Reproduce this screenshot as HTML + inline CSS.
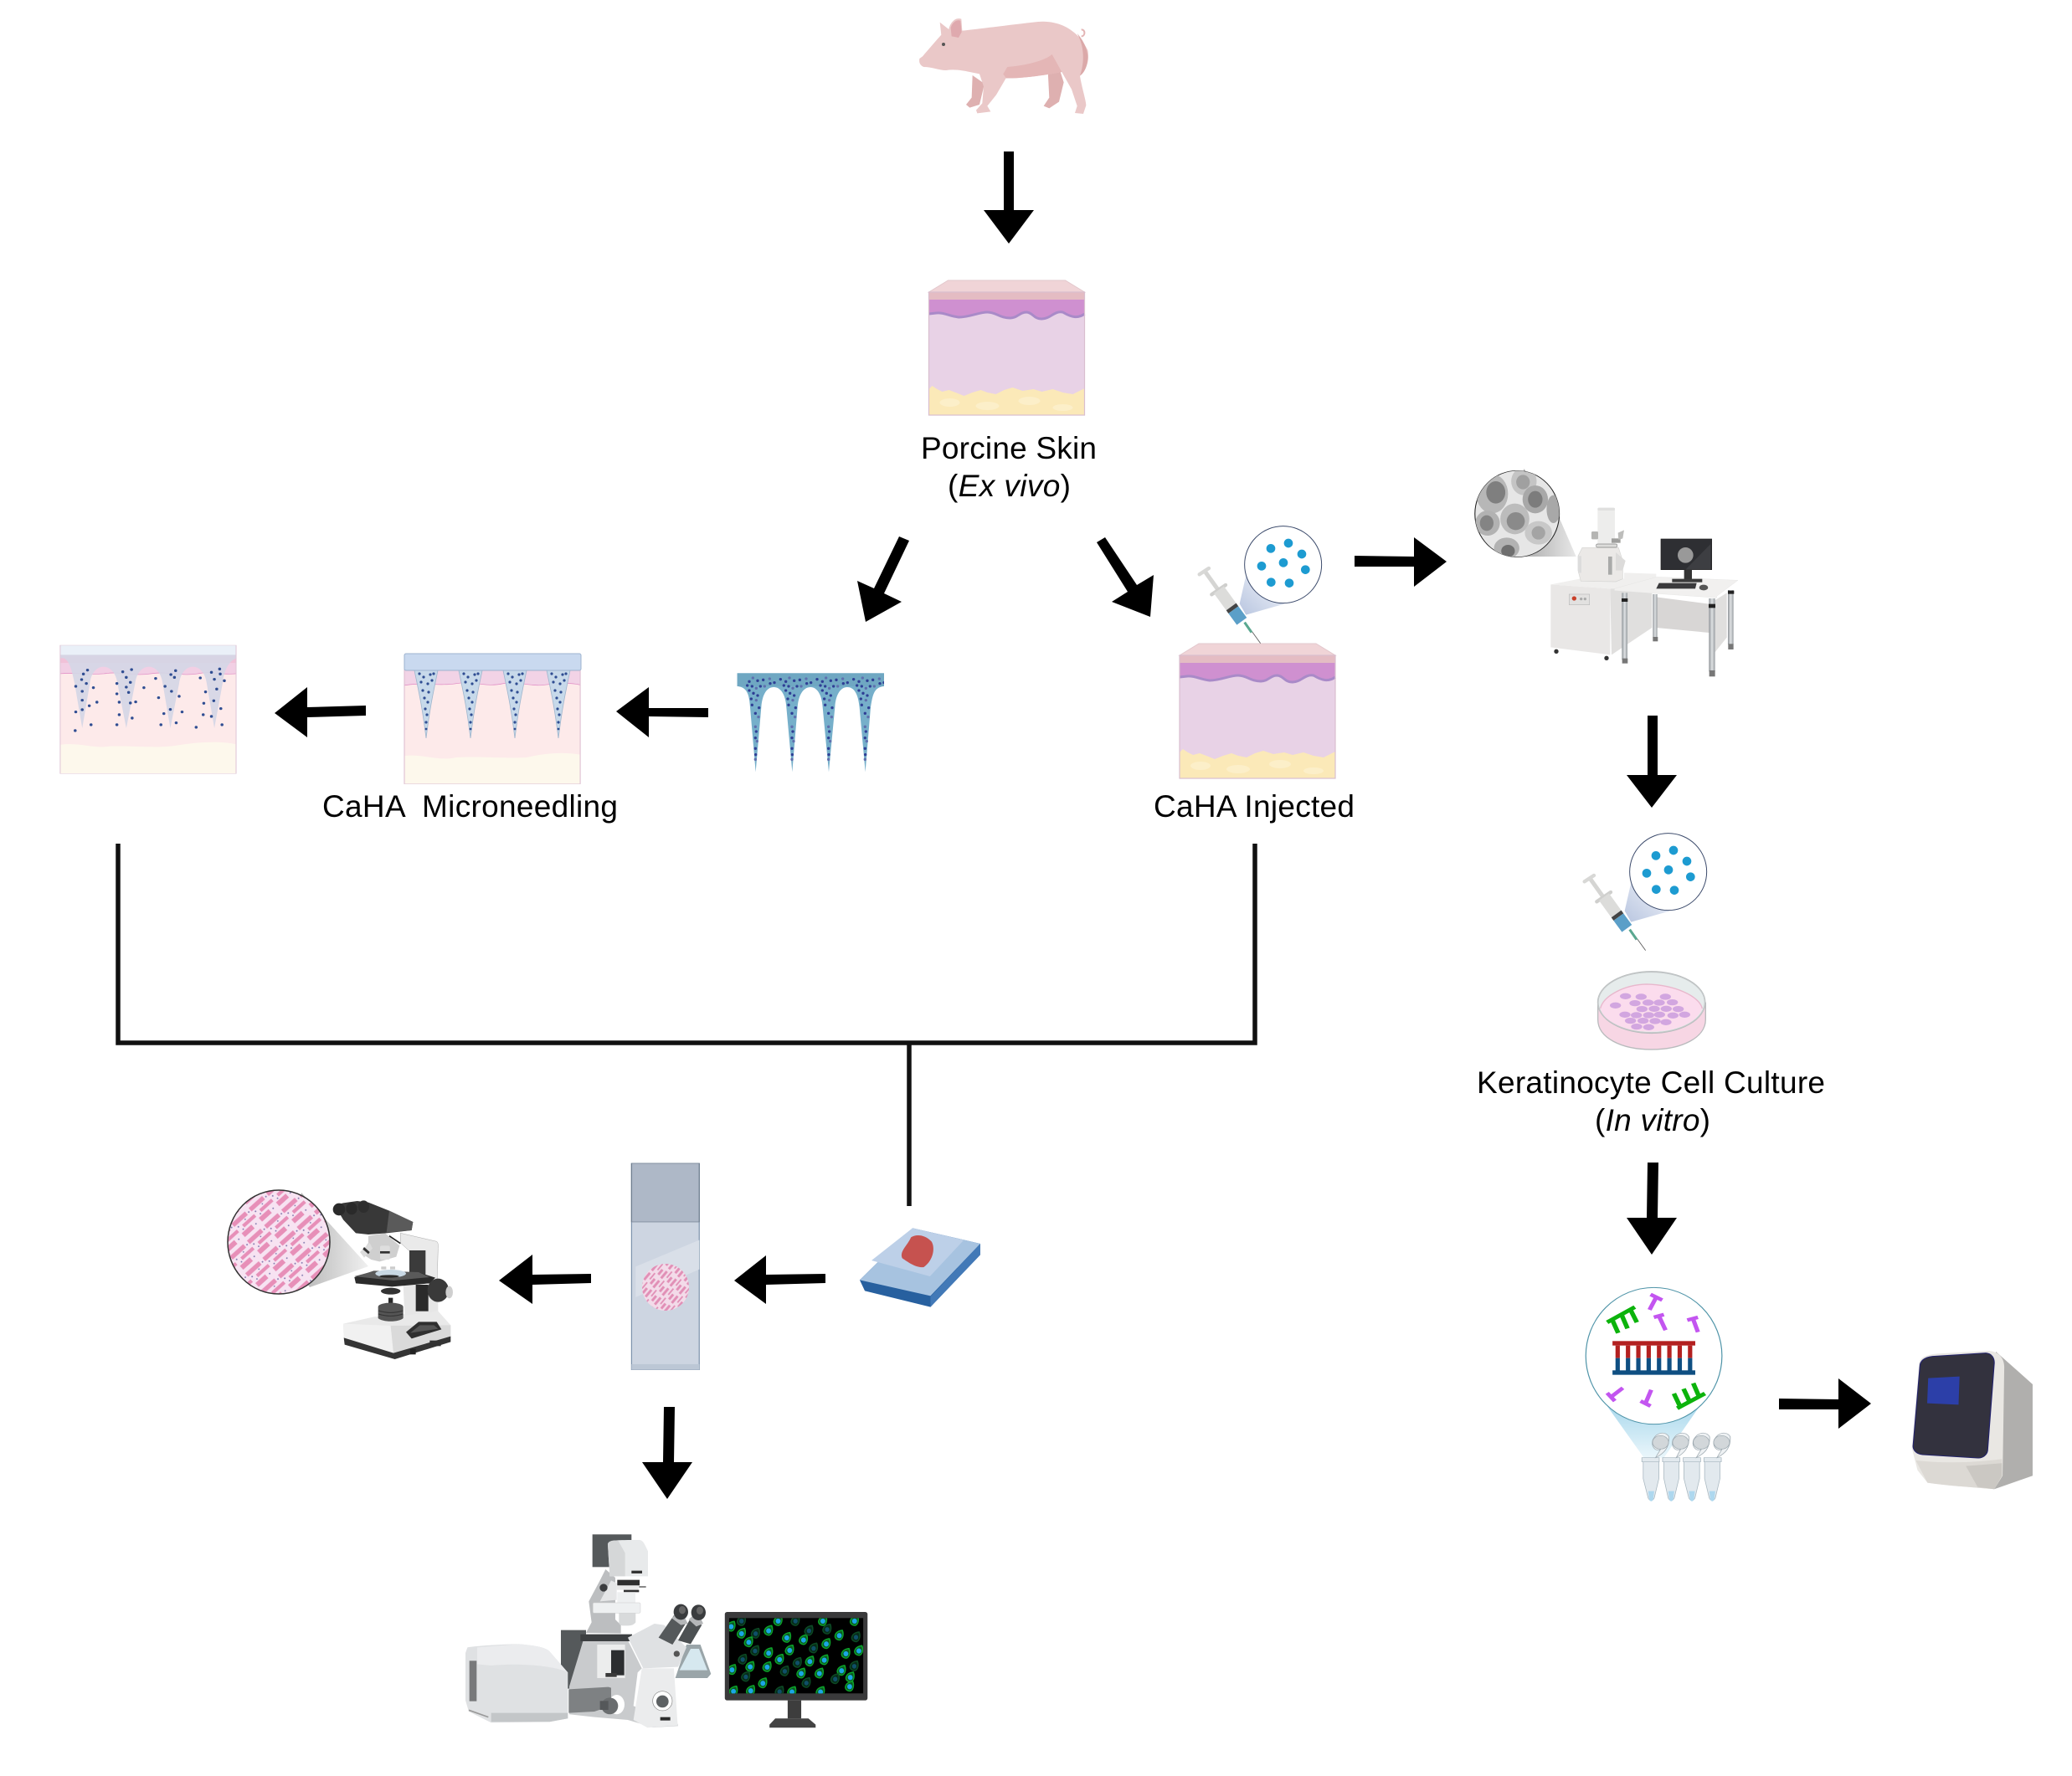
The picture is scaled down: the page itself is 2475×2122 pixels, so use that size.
<!DOCTYPE html>
<html><head><meta charset="utf-8"><style>
html,body{margin:0;padding:0;background:#fff}
svg{display:block}
text{font-family:"Liberation Sans",sans-serif;font-size:37px;fill:#000}
</style></head><body>
<svg xmlns="http://www.w3.org/2000/svg" width="2475" height="2122" viewBox="0 0 2475 2122">
<defs>
<linearGradient id="coneB" x1="0" y1="1" x2="1" y2="0"><stop offset="0" stop-color="#b9c6e0"/><stop offset="1" stop-color="#f4f6fb"/></linearGradient>
<linearGradient id="coneG" x1="1" y1="0.5" x2="0" y2="0.5"><stop offset="0" stop-color="#e8e8e8"/><stop offset="1" stop-color="#a5a5a5"/></linearGradient>
<linearGradient id="coneG2" x1="0" y1="0" x2="1" y2="0"><stop offset="0" stop-color="#a9a9a9"/><stop offset="1" stop-color="#f0f0f0"/></linearGradient>
<linearGradient id="coneC" x1="0" y1="0" x2="0" y2="1"><stop offset="0" stop-color="#a9d8ec"/><stop offset="1" stop-color="#eaf6fb"/></linearGradient>
<linearGradient id="leg" x1="0" y1="0" x2="1" y2="0"><stop offset="0" stop-color="#8f9498"/><stop offset=".5" stop-color="#dfe2e4"/><stop offset="1" stop-color="#989da1"/></linearGradient>
<pattern id="histo" width="46" height="46" patternUnits="userSpaceOnUse" patternTransform="rotate(-42) scale(.6)"><rect width="46" height="46" fill="#f7e3f2"/><g fill="#e78fb8"><rect x="0" y="3" width="36" height="9"/><rect x="14" y="19" width="32" height="7"/><rect x="2" y="31" width="26" height="10"/></g><g fill="#8077ad"><circle cx="41" cy="9" r="1.6"/><circle cx="6" cy="17" r="1.6"/><circle cx="36" cy="36" r="1.6"/><circle cx="10" cy="27" r="1.6"/><circle cx="26" cy="15" r="1.4"/></g></pattern>
<pattern id="histo2" width="24" height="24" patternUnits="userSpaceOnUse" patternTransform="rotate(-50) scale(.6)"><rect width="24" height="24" fill="#f3dbe9"/><g fill="#e18fb6"><rect x="0" y="2" width="18" height="5"/><rect x="8" y="11" width="16" height="3"/><rect x="2" y="17" width="13" height="5"/></g></pattern>

<g id="skin">
<path d="M0,14 L23,0 H163 L186,14Z" fill="#f0d4d7" stroke="#e2c7cc" stroke-width="1"/>
<rect y="14" width="186" height="10" fill="#e4bcc3"/>
<rect y="23" width="186" height="115" fill="#e8d2e6"/>
<path d="M0,23 H186 V40 C178,46 170,44 160,38 C150,36 145,46 135,46 C125,46 125,39 117,38 C108,38 106,45 97,45 C85,45 80,38 70,38 C60,38 48,44 36,44 C25,43 18,38 9,39 L0,40Z" fill="#cf90d0"/>
<path d="M0,40 L9,39 C18,38 25,43 36,44 C48,44 60,38 70,38 C80,38 85,45 97,45 C106,45 108,38 117,38 C125,39 125,46 135,46 C145,46 150,36 160,38 C170,44 178,46 186,40" fill="none" stroke="#a98ac8" stroke-width="3"/>
<path d="M0,161 V130 L4,126 L10,130 L16,133 L24,131 L32,134 L42,138 L52,134 L62,131 L70,134 L80,136 L90,131 L100,128 L112,132 L125,130 L135,133 L148,130 L160,134 L172,136 L186,129 V161Z" fill="#fbe9b8"/>
<g fill="#fcefc9"><ellipse cx="25" cy="146" rx="12" ry="5"/><ellipse cx="70" cy="150" rx="14" ry="5"/><ellipse cx="120" cy="144" rx="13" ry="5"/><ellipse cx="160" cy="152" rx="12" ry="4"/></g>
<rect y="14" width="186" height="147" fill="none" stroke="#d9bfcf" stroke-width="1.2"/>
</g>

<g id="syr">
<path d="M422,385 L447,275 C470,340 520,375 585,385 L445,425Z" fill="url(#coneB)"/>
<circle cx="578" cy="245" r="138" fill="#fff" stroke="#3b4a6b" stroke-width="3"/>
<g fill="#1d9bd1"><circle cx="534" cy="187" r="16"/><circle cx="597" cy="168" r="16"/><circle cx="645" cy="207" r="16"/><circle cx="501" cy="250" r="16"/><circle cx="579" cy="238" r="16"/><circle cx="658" cy="263" r="16"/><circle cx="535" cy="308" r="16"/><circle cx="600" cy="311" r="16"/></g>
<line x1="445" y1="455" x2="497" y2="527" stroke="#555" stroke-width="2.5"/>
<line x1="440" y1="452" x2="465" y2="488" stroke="#5aa890" stroke-width="9"/>
<line x1="300" y1="272" x2="345" y2="335" stroke="#d5d5d3" stroke-width="15"/>
<line x1="278" y1="280" x2="312" y2="258" stroke="#d8d8d6" stroke-width="13" stroke-linecap="round"/>
<line x1="322" y1="352" x2="372" y2="318" stroke="#cfcfcd" stroke-width="13" stroke-linecap="round"/>
<line x1="348" y1="335" x2="392" y2="396" stroke="#dcdcda" stroke-width="44"/>
<line x1="392" y1="396" x2="400" y2="407" stroke="#444" stroke-width="44"/>
<line x1="400" y1="407" x2="430" y2="448" stroke="#5b9fc8" stroke-width="44"/>
</g>

<g id="mnd">
<g fill="#2f3f95"><circle cx="75" cy="58" r="5"/><circle cx="105" cy="55" r="5"/><circle cx="125" cy="52" r="5"/><circle cx="68" cy="72" r="5"/><circle cx="85" cy="75" r="5"/><circle cx="115" cy="75" r="5"/><circle cx="75" cy="90" r="5"/><circle cx="90" cy="100" r="5"/><circle cx="105" cy="108" r="5"/><circle cx="82" cy="120" r="5"/><circle cx="110" cy="152" r="5"/><circle cx="85" cy="142" r="5"/><circle cx="97" cy="172" r="5"/><circle cx="100" cy="237" r="5"/><circle cx="97" cy="260" r="5"/><circle cx="97" cy="298" r="5"/><circle cx="98" cy="320" r="5"/><circle cx="150" cy="65" r="5"/><circle cx="165" cy="62" r="5"/><circle cx="187" cy="50" r="5"/></g>
<g fill="#5f6fae"><circle cx="88" cy="45" r="5"/><circle cx="100" cy="82" r="5"/><circle cx="100" cy="125" r="5"/><circle cx="108" cy="185" r="5"/><circle cx="97" cy="220" r="5"/><circle cx="103" cy="272" r="5"/><circle cx="97" cy="337" r="5"/><circle cx="148" cy="48" r="5"/><circle cx="130" cy="75" r="5"/></g>
</g>
<g id="ndl">
<path d="M-14,0 H14 C10,20 5,40 0,81 C-5,40 -10,20 -14,0Z" fill="#c7d9ea" stroke="#9fb6cd" stroke-width=".8"/>
<g fill="#2f4d92"><circle cx="-8" cy="4" r="1.6"/><circle cx="-3" cy="8" r="1.6"/><circle cx="5" cy="5" r="1.6"/><circle cx="9" cy="4" r="1.6"/><circle cx="-6" cy="14" r="1.6"/><circle cx="2" cy="16" r="1.6"/><circle cx="7" cy="12" r="1.6"/><circle cx="-4" cy="24" r="1.6"/><circle cx="3" cy="26" r="1.6"/><circle cx="-2" cy="33" r="1.6"/><circle cx="2" cy="38" r="1.6"/><circle cx="-1" cy="46" r="1.6"/><circle cx="1" cy="53" r="1.6"/><circle cx="0" cy="62" r="1.6"/><circle cx="0" cy="70" r="1.4"/></g>
</g>

<g id="c" transform="scale(.85)"><path d="M-20,3 C-18,-14 -4,-22 14,-24 C22,-8 18,18 2,22 C-10,22 -20,14 -20,3Z" fill="#0ca32a"/><path d="M-15,3 C-13,-10 -2,-16 10,-18 C16,-6 13,14 2,17 C-7,17 -15,11 -15,3Z" fill="#0a5a20"/><ellipse cx="0" cy="1" rx="10" ry="11" fill="#1aa6e6"/></g>
<g id="d" transform="scale(.85)"><path d="M-20,3 C-18,-14 -4,-22 14,-24 C22,-8 18,18 2,22 C-10,22 -20,14 -20,3Z" fill="#0c4a24"/><path d="M-15,3 C-13,-10 -2,-16 10,-18 C16,-6 13,14 2,17 C-7,17 -15,11 -15,3Z" fill="#062a18"/><ellipse cx="0" cy="1" rx="9" ry="10" fill="#0f4f68"/></g>
<clipPath id="scr"><rect x="990" y="340" width="465" height="270"/></clipPath>
<clipPath id="semC"><ellipse cx="945" cy="222" rx="93" ry="155"/></clipPath>
<clipPath id="pn1"><rect x="45" y="453" width="300" height="460"/></clipPath>
<clipPath id="mnC"><rect x="32" y="28" width="526" height="360"/></clipPath>
</defs>

<!-- PIG -->
<g transform="translate(1090,10) scale(.3333)">
<path d="M215,240 L212,320 L192,345 L205,356 L240,345 L258,270Z" fill="#deb0b0"/>
<path d="M485,222 L490,320 L470,350 L490,358 L525,335 L542,265 L525,212Z" fill="#deb0b0"/>
<path d="M25,180 L36,172 C55,150 85,115 103,95 L98,50 L130,75 C135,50 155,30 175,38 L178,80 C230,75 340,60 450,48 C520,42 590,72 628,150 C636,190 620,225 600,242 C608,290 622,330 622,348 L612,378 L582,375 L590,350 L570,290 L535,228 C480,238 400,252 335,250 L300,310 L268,350 L280,370 L232,376 L228,365 L250,340 L255,280 L240,235 C200,228 160,215 120,222 C95,222 70,210 40,210 C28,205 22,195 25,180Z" fill="#eac8c8"/>
<path d="M340,210 C400,205 470,190 500,165 L535,228 C480,238 400,252 335,250 L325,235Z" fill="#e4b6b6"/>
<path d="M590,90 C618,120 636,165 625,200 C620,222 610,235 600,242 C618,190 615,135 590,90Z" fill="#dba9a9"/>
<path d="M140,100 L137,70 C142,48 162,38 172,45 L176,85 L165,105Z" fill="#dfa9ae"/>
<circle cx="111" cy="129" r="6" fill="#555"/>
<path d="M605,100 C620,100 620,75 605,76" fill="none" stroke="#e3b5b5" stroke-width="6"/>
</g>
<use href="#skin" x="1109.5" y="335"/>
<use href="#skin" x="1409" y="769"/>

<!-- ARROWS -->
<g fill="#000">
<polygon points="1199,181 1211,181 1211,251 1235,251 1205,291 1175,251 1199,251"/>
<polygon points="1074,641 1044,703 1024,694 1034,743 1077,719 1056,709 1086,646"/>
<polygon points="1310,648 1347,707 1328,719 1374,737 1378,687 1358,699 1320,642"/>
<polygon points="1618,664 1689,665 1689,642 1728,671 1689,701 1689,677 1618,677"/>
<polygon points="1968,855 1980,855 1980,926 2003,926 1973,965 1943,926 1968,926"/>
<polygon points="846,846 846,857 775,856 775,881 736,850 775,821 775,846"/>
<polygon points="437,843 437,855 367,857 367,881 328,852 367,821 367,845"/>
<polygon points="1968,1389 1981,1389 1980,1455 2003,1455 1973,1499 1943,1455 1967,1455"/>
<polygon points="986,1522 986,1533 915,1535 915,1558 877,1530 915,1500 915,1523"/>
<polygon points="706,1522 706,1533 636,1535 636,1558 596,1530 636,1499 636,1523"/>
<polygon points="793,1681 806,1681 805,1747 827,1747 797,1791 767,1747 792,1747"/>
<polygon points="2125,1671 2196,1672 2196,1647 2235,1677 2196,1707 2196,1684 2125,1684"/>
</g>

<!-- BRACKET -->
<path d="M141,1008 V1246 H1499 V1008 M1086,1246 V1441" fill="none" stroke="#111" stroke-width="5.5"/>

<!-- MICRONEEDLE PATCH -->
<g transform="translate(870,795) scale(.3333)">
<path d="M32,28 H558 V75 C520,78 517,110 510,150 L491,382 L470,150 C465,100 450,78 426,78 C405,78 385,100 382,150 L360,382 L338,150 C335,100 315,78 295,78 C272,78 252,100 248,150 L229,382 L208,150 C205,100 185,78 163,78 C140,78 122,100 118,150 L98,382 L78,150 C75,110 70,78 32,75Z" fill="#76afca"/>
<rect x="32" y="28" width="526" height="47" fill="#6fa7c2"/>
<g clip-path="url(#mnC)"><use href="#mnd"/><use href="#mnd" x="131"/><use href="#mnd" x="262"/><use href="#mnd" x="393"/></g>
</g>

<!-- PANELS -->
<g transform="translate(40,620) scale(.7015,.3333)">
<rect x="631" y="540" width="300" height="410" fill="#fdeaea"/>
<path d="M631,850 C660,840 690,870 720,855 C760,850 800,860 840,855 C870,840 900,835 931,845 V950 H631Z" fill="#fdf8ec"/>
<path d="M631,540 H931 V595 C910,585 890,590 870,595 C850,602 820,580 800,590 C770,605 750,580 720,590 C690,600 660,585 631,597Z" fill="#f2d3e6"/>
<path d="M631,597 C660,585 690,600 720,590 C750,580 770,605 800,590 C820,580 850,602 870,595 C890,590 910,585 931,595" fill="none" stroke="#e08ac4" stroke-width="2"/>
<rect x="631.5" y="540" width="299.5" height="410" fill="none" stroke="#ddbcd0" stroke-width="1.5"/>

<rect x="45" y="453" width="300" height="460" fill="#fdeaea"/>
<rect x="45" y="453" width="300" height="35" fill="#eaf0f8"/>
<path d="M45,810 C80,800 100,825 130,815 C170,812 210,825 250,810 C280,800 320,795 345,808 V913 H45Z" fill="#fdf8ec"/>
<path d="M45,488 H345 V555 C320,560 300,545 280,555 C250,565 230,545 200,555 C170,565 150,545 120,555 C90,560 70,550 45,555Z" fill="#f2cfe4"/>
<rect x="45" y="488" width="300" height="28" fill="#f0bcd4" opacity=".75"/>
<path d="M45,555 C70,550 90,560 120,555 C150,545 170,565 200,555 C230,545 250,565 280,555 C300,545 320,560 345,555" fill="none" stroke="#e08ac4" stroke-width="2"/>
<g clip-path="url(#pn1)" fill="#d4d6e6" fill-opacity=".9">
<path d="M45,500 C60,490 65,540 70,590 L83,750 L96,590 C100,510 138,510 143,590 L158,750 L173,590 C178,510 215,510 220,590 L233,750 L248,590 C253,510 290,510 295,590 L308,750 L322,590 C326,510 345,500 345,500 V487 H45Z"/>
</g>
<rect x="45.5" y="453" width="299.5" height="460" fill="none" stroke="#dfc6d6" stroke-width="1.5"/>
<g fill="#2f4d92">
<ellipse cx="92" cy="542" rx="2.5" ry="5"/><ellipse cx="85" cy="556" rx="2.5" ry="5"/><ellipse cx="152" cy="548" rx="2.5" ry="5"/><ellipse cx="167" cy="540" rx="2.5" ry="5"/><ellipse cx="242" cy="544" rx="2.5" ry="5"/><ellipse cx="234" cy="558" rx="2.5" ry="5"/><ellipse cx="303" cy="550" rx="2.5" ry="5"/><ellipse cx="317" cy="538" rx="2.5" ry="5"/><ellipse cx="318" cy="556" rx="2.5" ry="5"/>
<ellipse cx="82" cy="576" rx="2.5" ry="5"/><ellipse cx="90" cy="590" rx="2.5" ry="5"/><ellipse cx="72" cy="600" rx="2.5" ry="5"/><ellipse cx="102" cy="605" rx="2.5" ry="5"/><ellipse cx="83" cy="618" rx="2.5" ry="5"/><ellipse cx="83" cy="650" rx="2.5" ry="5"/><ellipse cx="108" cy="657" rx="2.5" ry="5"/><ellipse cx="95" cy="670" rx="2.5" ry="5"/><ellipse cx="83" cy="684" rx="2.5" ry="5"/><ellipse cx="72" cy="692" rx="2.5" ry="5"/><ellipse cx="98" cy="738" rx="2.5" ry="5"/><ellipse cx="71" cy="759" rx="2.5" ry="5"/>
<ellipse cx="158" cy="568" rx="2.5" ry="5"/><ellipse cx="142" cy="590" rx="2.5" ry="5"/><ellipse cx="165" cy="586" rx="2.5" ry="5"/><ellipse cx="158" cy="603" rx="2.5" ry="5"/><ellipse cx="188" cy="605" rx="2.5" ry="5"/><ellipse cx="142" cy="627" rx="2.5" ry="5"/><ellipse cx="162" cy="622" rx="2.5" ry="5"/><ellipse cx="146" cy="657" rx="2.5" ry="5"/><ellipse cx="165" cy="660" rx="2.5" ry="5"/><ellipse cx="174" cy="656" rx="2.5" ry="5"/><ellipse cx="146" cy="702" rx="2.5" ry="5"/><ellipse cx="168" cy="714" rx="2.5" ry="5"/><ellipse cx="142" cy="738" rx="2.5" ry="5"/>
<ellipse cx="208" cy="572" rx="2.5" ry="5"/><ellipse cx="240" cy="568" rx="2.5" ry="5"/><ellipse cx="224" cy="600" rx="2.5" ry="5"/><ellipse cx="235" cy="618" rx="2.5" ry="5"/><ellipse cx="213" cy="641" rx="2.5" ry="5"/><ellipse cx="248" cy="636" rx="2.5" ry="5"/><ellipse cx="233" cy="683" rx="2.5" ry="5"/><ellipse cx="253" cy="692" rx="2.5" ry="5"/><ellipse cx="222" cy="698" rx="2.5" ry="5"/><ellipse cx="217" cy="738" rx="2.5" ry="5"/><ellipse cx="243" cy="731" rx="2.5" ry="5"/>
<ellipse cx="284" cy="570" rx="2.5" ry="5"/><ellipse cx="308" cy="575" rx="2.5" ry="5"/><ellipse cx="325" cy="580" rx="2.5" ry="5"/><ellipse cx="312" cy="610" rx="2.5" ry="5"/><ellipse cx="293" cy="620" rx="2.5" ry="5"/><ellipse cx="307" cy="652" rx="2.5" ry="5"/><ellipse cx="290" cy="661" rx="2.5" ry="5"/><ellipse cx="319" cy="680" rx="2.5" ry="5"/><ellipse cx="289" cy="702" rx="2.5" ry="5"/><ellipse cx="303" cy="708" rx="2.5" ry="5"/><ellipse cx="277" cy="747" rx="2.5" ry="5"/><ellipse cx="321" cy="738" rx="2.5" ry="5"/>
</g>
</g>
<use href="#ndl" x="509" y="801"/><use href="#ndl" x="562" y="801"/><use href="#ndl" x="615" y="801"/><use href="#ndl" x="667" y="801"/>
<rect x="483" y="781" width="211" height="20" rx="2" fill="#c9d9ef" stroke="#9db3cf" stroke-width="1"/>

<!-- SYRINGES -->
<use href="#syr" transform="translate(1340,593) scale(.3333)"/>
<use href="#syr" transform="translate(1800,960) scale(.3333)"/>

<!-- SEM bubble -->
<g transform="translate(1300,540) scale(.542,.3333)">
<path d="M960,60 L1035,225 L1075,375 L945,375Z" fill="url(#coneG)"/>
<ellipse cx="945" cy="222" rx="93" ry="155" fill="#e6e6e6" stroke="#222" stroke-width="2"/>
<g clip-path="url(#semC)">
<ellipse cx="890" cy="150" rx="35" ry="70" fill="#b7b7b7"/><ellipse cx="898" cy="145" rx="21" ry="40" fill="#7f7f7f"/>
<ellipse cx="960" cy="105" rx="28" ry="50" fill="#c4c4c4"/><ellipse cx="958" cy="108" rx="15" ry="26" fill="#a0a0a0"/>
<ellipse cx="985" cy="170" rx="28" ry="50" fill="#a8a8a8"/><ellipse cx="985" cy="170" rx="16" ry="30" fill="#7c7c7c"/>
<ellipse cx="940" cy="240" rx="32" ry="55" fill="#bcbcbc"/><ellipse cx="942" cy="248" rx="20" ry="32" fill="#8a8a8a"/>
<ellipse cx="880" cy="255" rx="27" ry="45" fill="#b2b2b2"/><ellipse cx="878" cy="255" rx="15" ry="28" fill="#848484"/>
<ellipse cx="992" cy="290" rx="30" ry="42" fill="#c8c8c8"/><ellipse cx="992" cy="290" rx="15" ry="24" fill="#a4a4a4"/>
<ellipse cx="922" cy="345" rx="28" ry="38" fill="#b2b2b2"/><ellipse cx="925" cy="355" rx="15" ry="22" fill="#6f6f6f"/>
<ellipse cx="1025" cy="205" rx="15" ry="50" fill="#a8a8a8"/>
</g>
</g>
<!-- SEM instrument -->
<g transform="translate(1840,595) scale(.3333)">
<path d="M415,355 L605,380 V483 L415,465Z" fill="#d8d6d5"/>
<path d="M620,370 L668,340 V500 L620,560Z" fill="#e0dfde"/>
<path d="M250,325 L400,285 V465 L255,562Z" fill="#e0dfde"/>
<path d="M37,310 L250,325 V562 L37,535Z" fill="#e9e7e6"/>
<path d="M37,310 L140,290 L300,290 L300,268 L415,272 V285 L265,325 H250Z" fill="#f0efee"/>
<path d="M135,208 L150,178 H280 L295,225 V290 L270,300 L145,298 L135,260Z" fill="#ebe9e7" stroke="#d5d5d3" stroke-width="2"/>
<rect x="243" y="210" width="14" height="65" fill="#a9aaa9"/><rect x="135" y="208" width="12" height="60" fill="#dcdcdc"/>
<path d="M270,195 L305,225 L295,260 L270,260Z" fill="#dcdbda"/>
<rect x="205" y="35" width="62" height="135" rx="8" fill="#ededec"/><rect x="205" y="35" width="62" height="10" rx="4" fill="#e0e0df"/>
<rect x="183" y="120" width="24" height="28" rx="4" fill="#b5b5b3"/><rect x="255" y="145" width="32" height="16" fill="#9f9f9d"/><path d="M278,125 L300,115 L295,145 L280,150Z" fill="#bdbdbb"/>
<rect x="200" y="165" width="75" height="12" rx="5" fill="#dcdcda" stroke="#888" stroke-width="2"/>
<rect x="103" y="345" width="73" height="38" fill="#e2e1e0" stroke="#bbb" stroke-width="2"/><circle cx="121" cy="360" r="8" fill="#c9402a"/><circle cx="146" cy="362" r="5" fill="#aaa"/><circle cx="160" cy="362" r="5" fill="#aaa"/>
<circle cx="57" cy="550" r="8" fill="#333"/><circle cx="237" cy="574" r="8" fill="#333"/>
<rect x="292" y="340" width="20" height="240" fill="url(#leg)"/><rect x="291" y="360" width="22" height="12" fill="#222"/><rect x="293" y="575" width="20" height="18" fill="#777"/>
<rect x="403" y="345" width="16" height="155" fill="url(#leg)"/><rect x="403" y="498" width="18" height="16" fill="#777"/>
<rect x="604" y="360" width="22" height="262" fill="url(#leg)"/><rect x="603" y="380" width="24" height="14" fill="#222"/><rect x="605" y="618" width="21" height="22" fill="#777"/>
<rect x="672" y="330" width="20" height="195" fill="url(#leg)"/><rect x="672" y="332" width="22" height="12" fill="#222"/><rect x="673" y="523" width="19" height="20" fill="#777"/>
<path d="M265,325 L418,283 L708,295 L632,352 L632,358 L265,332Z" fill="#f1f0ef" stroke="#e0dfde" stroke-width="1"/>
<rect x="432" y="147" width="182" height="110" fill="#2e2f33" stroke="#222" stroke-width="2"/>
<path d="M520,257 L610,165 V257Z" fill="#3d3e42"/>
<circle cx="520" cy="205" r="28" fill="#999"/>
<rect x="515" y="257" width="28" height="35" fill="#333"/><rect x="472" y="290" width="108" height="12" fill="#3a3a3a"/>
<path d="M425,305 H560 L555,325 H415Z" fill="#3a3a3c"/><ellipse cx="585" cy="321" rx="16" ry="10" fill="#555"/>
</g>

<!-- PETRI -->
<g transform="translate(1800,960) scale(.3333)">
<path d="M326,715 V775 C326,840 410,882 518,882 C626,882 712,840 712,775 V715Z" fill="#f7d6e4" stroke="#b9bbbd" stroke-width="4"/>
<ellipse cx="518" cy="713" rx="192" ry="110" fill="#e6ecec" stroke="#b7bbbc" stroke-width="5"/>
<path d="M335,735 C345,690 420,650 500,648 C600,650 690,690 700,735 C680,790 600,818 518,818 C430,818 350,790 335,735Z" fill="#fbdced"/>
<path d="M335,735 C345,690 420,650 500,648 C600,650 690,690 700,735" fill="none" stroke="#e8b7cc" stroke-width="4"/>
<g fill="#d2a6e0"><ellipse cx="425" cy="691" rx="20" ry="11"/><ellipse cx="481" cy="693" rx="20" ry="11"/><ellipse cx="568" cy="693" rx="20" ry="11"/><ellipse cx="389" cy="724" rx="20" ry="11"/><ellipse cx="459" cy="716" rx="20" ry="11"/><ellipse cx="506" cy="714" rx="20" ry="11"/><ellipse cx="546" cy="714" rx="20" ry="11"/><ellipse cx="593" cy="713" rx="20" ry="11"/><ellipse cx="484" cy="737" rx="20" ry="11"/><ellipse cx="528" cy="736" rx="20" ry="11"/><ellipse cx="571" cy="736" rx="20" ry="11"/><ellipse cx="614" cy="737" rx="20" ry="11"/><ellipse cx="423" cy="757" rx="20" ry="11"/><ellipse cx="464" cy="759" rx="20" ry="11"/><ellipse cx="508" cy="759" rx="20" ry="11"/><ellipse cx="547" cy="757" rx="20" ry="11"/><ellipse cx="595" cy="760" rx="20" ry="11"/><ellipse cx="637" cy="757" rx="20" ry="11"/><ellipse cx="443" cy="779" rx="20" ry="11"/><ellipse cx="488" cy="779" rx="20" ry="11"/><ellipse cx="531" cy="780" rx="20" ry="11"/><ellipse cx="570" cy="784" rx="20" ry="11"/><ellipse cx="465" cy="800" rx="20" ry="11"/><ellipse cx="508" cy="802" rx="20" ry="11"/></g>
<ellipse cx="518" cy="713" rx="192" ry="108" fill="none" stroke="#c5c9ca" stroke-width="3"/>
</g>

<!-- PCR -->
<g transform="translate(1850,1500) scale(.3986,.3333)">
<path d="M172,535 L285,725 H345 L455,535 C400,600 230,600 172,535Z" fill="url(#coneC)"/>
<ellipse cx="315" cy="360" rx="204" ry="245" fill="#fff" stroke="#4f94a8" stroke-width="3"/>
<g fill="#b32020"><rect x="191" y="307" width="248" height="16"/><rect x="200" y="323" width="13" height="45"/><rect x="231" y="323" width="13" height="45"/><rect x="262" y="323" width="13" height="45"/><rect x="293" y="323" width="13" height="45"/><rect x="324" y="323" width="13" height="45"/><rect x="355" y="323" width="13" height="45"/><rect x="386" y="323" width="13" height="45"/><rect x="417" y="323" width="13" height="45"/></g>
<g fill="#0f4f82"><rect x="191" y="412" width="248" height="16"/><rect x="200" y="368" width="13" height="45"/><rect x="231" y="368" width="13" height="45"/><rect x="262" y="368" width="13" height="45"/><rect x="293" y="368" width="13" height="45"/><rect x="324" y="368" width="13" height="45"/><rect x="355" y="368" width="13" height="45"/><rect x="386" y="368" width="13" height="45"/><rect x="417" y="368" width="13" height="45"/></g>
<g fill="none" stroke="#0cb30c" stroke-width="14">
<path d="M175,240 L258,185 M190,230 L208,278 M218,212 L236,262 M245,195 L264,240"/>
<path d="M385,548 L468,495 M375,495 L393,540 M404,478 L422,524 M433,458 L450,505"/>
</g>
<g fill="none" stroke="#c355f0" stroke-width="13">
<path d="M305,140 L340,160 M322,150 L302,195"/><path d="M315,222 L345,212 M330,217 L350,268"/><path d="M415,232 L447,222 M432,226 L447,275"/>
<path d="M175,493 L198,522 M187,507 L222,475"/><path d="M275,522 L305,540 M290,530 L307,482"/>
</g>
<g fill="#e2e9ee" stroke="#a9b8c1" stroke-width="2">
<path d="M283,733 V800 L298,870 Q307,888 316,870 L330,800 V733Z"/><path d="M345,733 V800 L358,870 Q367,888 376,870 L390,800 V733Z"/><path d="M405,733 V800 L420,870 Q429,888 438,870 L452,800 V733Z"/><path d="M467,733 V800 L481,870 Q490,888 499,870 L513,800 V733Z"/>
<rect x="279" y="725" width="52" height="15"/><rect x="341" y="725" width="52" height="15"/><rect x="403" y="725" width="52" height="15"/><rect x="465" y="725" width="52" height="15"/>
</g>
<g fill="#aed8ef"><path d="M298,845 H316 L313,875 Q307,888 301,875Z"/><path d="M358,845 H376 L373,875 Q367,888 361,875Z"/><path d="M420,845 H438 L435,875 Q429,888 423,875Z"/><path d="M481,845 H499 L496,875 Q490,888 484,875Z"/></g>
<g fill="#eef1f3" stroke="#9eaab1" stroke-width="2"><path d="M320,725 C345,710 362,690 360,650 C350,630 325,632 312,660 C305,685 320,705 335,695Z"/><path d="M382,725 C405,710 422,690 420,650 C410,630 385,632 372,660 C365,685 380,705 395,695Z"/><path d="M442,725 C467,710 484,690 482,650 C472,630 447,632 434,660 C427,685 442,705 457,695Z"/><path d="M504,725 C529,710 546,690 544,650 C534,630 509,632 496,660 C489,685 504,705 519,695Z"/></g>
<g fill="#d2d7da" stroke="#9eaab1" stroke-width="2"><circle cx="335" cy="670" r="24"/><circle cx="395" cy="670" r="24"/><circle cx="457" cy="670" r="24"/><circle cx="518" cy="670" r="24"/></g>
<path d="M1340,345 L1450,462 V790 L1335,838 L1270,820Z" fill="#b0afad"/>
<path d="M1110,385 C1115,360 1140,355 1165,352 L1315,342 C1345,342 1365,365 1365,400 L1360,790 L1335,838 C1260,830 1190,825 1135,815 L1105,770 L1088,690Z" fill="#e9e7e3"/>
<path d="M1100,735 C1180,745 1260,745 1358,730 V790 L1335,838 C1260,830 1190,825 1135,815Z" fill="#dcd9d4"/>
<path d="M1250,755 L1358,745 V790 L1335,838 L1285,830Z" fill="#cbc8c3"/>
<path d="M1112,400 C1112,375 1130,365 1150,362 L1310,350 C1328,352 1335,368 1335,385 L1315,700 C1313,715 1300,728 1285,726 L1120,714 C1100,712 1090,695 1092,680Z" fill="#33323e" stroke="#22226a" stroke-width="3"/>
<path d="M1137,440 L1231,434 L1228,535 L1134,530Z" fill="#2c3fa8"/>
</g>

<!-- HISTOLOGY BUBBLE -->
<polygon points="360,1425 440,1513 370,1538 340,1500" fill="url(#coneG2)"/>
<ellipse cx="333" cy="1484" rx="61" ry="62" fill="url(#histo)" stroke="#333" stroke-width="1.5"/>

<!-- MICROSCOPE -->
<g transform="translate(390,1420) scale(.3333)">
<path d="M60,485 L170,460 L400,440 L445,490 V535 L240,590 L62,535Z" fill="#e9e9e9"/>
<path d="M60,485 L230,492 L240,590 L62,535Z" fill="#f1f1f1"/>
<path d="M230,492 L445,490 V535 L240,590Z" fill="#dadada"/>
<path d="M62,535 L240,590 L445,530 V550 L245,612 L65,560Z" fill="#343434"/>
<path d="M285,515 L330,478 L395,478 L412,505 L305,538Z" fill="#2f2f2f"/><path d="M300,518 L335,490 L385,490 L400,503Z" fill="#555"/>
<rect x="300" y="575" width="20" height="20" fill="#222"/><rect x="370" y="545" width="40" height="20" fill="#333"/>
<path d="M275,345 H400 V440 L280,455Z" fill="#e6e6e6"/>
<path d="M265,160 L395,190 Q402,195 400,215 L396,345 L300,330 L298,225 L265,195Z" fill="#eaeaea" stroke="#aaa" stroke-width="1.5"/>
<rect x="297" y="222" width="58" height="92" fill="#3b3b3b"/>
<path d="M150,170 L210,160 L262,205 L250,245 L190,262 L160,255 L125,232 L150,195Z" fill="#cfcfcf"/>
<path d="M120,228 L155,195 L165,215 L135,248Z" fill="#dcdcdc"/><rect x="192" y="205" width="35" height="50" rx="6" fill="#dedede"/>
<rect x="192" y="225" width="35" height="8" fill="#333"/><path d="M135,210 L155,228 L150,235 L130,218Z" fill="#333"/>
<path d="M225,170 L265,197" stroke="#222" stroke-width="5" fill="none"/>
<path d="M30,60 L60,52 L110,45 L150,50 L225,80 L310,120 L305,150 L215,160 L150,165 L105,160 L60,112Z" fill="#383838"/>
<path d="M225,80 L310,120 L305,150 L215,158Z" fill="#5a5a5a"/>
<ellipse cx="45" cy="75" rx="22" ry="22" fill="#2a2a2a"/><ellipse cx="90" cy="72" rx="20" ry="22" fill="#2a2a2a"/><ellipse cx="133" cy="65" rx="20" ry="22" fill="#2e2e2e"/>
<path d="M100,318 L170,295 L335,302 L390,320 L370,340 L235,352 L105,340Z" fill="#2b2b2b"/>
<path d="M100,315 L175,295 L330,300 L370,318 L240,330Z" fill="#5a5a5a"/>
<ellipse cx="230" cy="305" rx="55" ry="14" fill="#c8d8e4"/><ellipse cx="225" cy="315" rx="35" ry="5" fill="#2a2a2a"/>
<rect x="196" y="280" width="18" height="10" fill="#ccc"/><rect x="228" y="280" width="18" height="10" fill="#ccc"/>
<ellipse cx="230" cy="368" rx="35" ry="12" fill="#333"/><rect x="222" y="392" width="16" height="28" fill="#2a2a2a"/>
<path d="M185,425 C185,405 275,405 275,425 V465 C260,480 200,480 185,465Z" fill="#555"/>
<g stroke="#333" stroke-width="3" fill="none"><path d="M186,438 Q230,452 274,438"/><path d="M186,450 Q230,464 274,450"/></g>
<rect x="320" y="345" width="45" height="95" fill="#2a2a2a"/>
<ellipse cx="400" cy="365" rx="38" ry="42" fill="#3a3a3a"/><ellipse cx="440" cy="372" rx="13" ry="22" fill="#cfcfcf"/>
</g>

<!-- SLIDE & CASSETTE -->
<g transform="translate(240,1380) scale(.6124,.3333)">
<rect x="840" y="30" width="132" height="740" fill="#cdd5e1" stroke="#7f94ad" stroke-width="2"/>
<rect x="840" y="30" width="132" height="210" fill="#aeb8c7" stroke="#6f7e8f" stroke-width="2"/>
<path d="M848,400 L972,305 V410 L848,510Z" fill="#d9dfe8"/>
<rect x="840" y="750" width="132" height="20" fill="#bcc7d5"/>
<path d="M1285,448 L1388,262 L1520,318 V358 L1423,545 L1295,487Z" fill="#27609f"/>
<path d="M1520,318 V358 L1423,545 V508Z" fill="#4279b7"/>
<path d="M1285,448 L1388,262 L1520,318 L1423,505Z" fill="#a7c3e0"/>
<path d="M1308,378 L1388,262 L1488,305 L1422,435Z" fill="#bdd0e8"/>
<path d="M1385,295 C1395,283 1412,285 1425,310 C1432,330 1430,375 1410,402 C1395,405 1380,385 1368,370 C1362,345 1378,325 1385,295Z" fill="#c6524f"/>
</g>
<ellipse cx="795" cy="1538" rx="28" ry="28" fill="url(#histo2)"/>

<!-- CONFOCAL -->
<g transform="translate(550,1825) scale(.3333)">
<path d="M810,420 H860 L898,525 L885,540 H770 L790,480Z" fill="#9aa5a9"/><path d="M825,435 H855 L885,512 H785Z" fill="#d6e8ef"/>
<rect x="473" y="25" width="140" height="117" fill="#55595b"/>
<path d="M520,150 L555,180 V330 L575,350 V380 L450,378 L470,340 L460,265 L500,190Z" fill="#bcbec0"/>
<path d="M500,265 L540,190 L560,200 V260Z" fill="#e5e6e7"/>
<ellipse cx="513" cy="216" rx="14" ry="14" fill="#3a3c3e"/>
<rect x="562" y="188" width="80" height="20" fill="#2e2e2e"/><rect x="560" y="210" width="78" height="14" fill="#e8e8e8"/><rect x="585" y="224" width="55" height="8" fill="#333"/><rect x="562" y="232" width="65" height="40" fill="#eef0f1"/><rect x="640" y="210" width="25" height="6" fill="#888"/>
<rect x="475" y="270" width="170" height="37" rx="4" fill="#eef0f1" stroke="#ccc" stroke-width="1.5"/>
<path d="M568,307 H628 V340 Q620,352 600,352 H580 Q568,350 568,340Z" fill="#d8dadb"/>
<path d="M528,60 C530,45 560,45 640,45 C655,45 660,60 672,85 V175 L535,175Z" fill="#e8eaeb"/>
<path d="M528,60 C530,47 550,45 565,47 L590,92 V175 H535Z" fill="#d5d7d8"/>
<rect x="613" y="155" width="38" height="10" fill="#333"/>
<rect x="360" y="368" width="90" height="210" fill="#55595b"/>
<path d="M440,405 H600 L650,505 L635,520 L620,640 L780,705 V712 L690,717 L600,690 L480,680 L390,670 V570Z" fill="#c9cbcd"/>
<rect x="490" y="420" width="100" height="120" fill="#eceded"/><rect x="540" y="440" width="47" height="90" fill="#2c2e30"/><rect x="520" y="522" width="40" height="14" fill="#3a3a3a"/>
<rect x="430" y="383" width="185" height="25" fill="#3c3f41"/>
<path d="M600,395 L695,345 L730,350 L810,430 L780,500 L655,505Z" fill="#dfe1e3"/>
<path d="M710,395 L765,315 L810,340 L760,420Z" fill="#55595b"/><path d="M780,405 L825,325 L865,350 L825,418Z" fill="#4d5153"/>
<path d="M757,325 L790,295 L815,345 L790,350Z" fill="#b4b6b8"/><path d="M818,330 L850,300 L870,345 L845,355Z" fill="#b4b6b8"/>
<ellipse cx="790" cy="303" rx="26" ry="28" fill="#3a3c3e"/><ellipse cx="795" cy="296" rx="12" ry="14" fill="#666"/>
<ellipse cx="853" cy="305" rx="26" ry="28" fill="#3a3c3e"/><ellipse cx="858" cy="298" rx="12" ry="14" fill="#666"/>
<circle cx="775" cy="453" r="11" fill="#555"/>
<path d="M650,505 L765,505 L778,700 L780,710 L670,718 L620,690Z" fill="#ebeced"/>
<circle cx="724" cy="622" r="35" fill="#fff" stroke="#888" stroke-width="2"/><circle cx="724" cy="624" r="22" fill="#5d6163"/>
<rect x="716" y="680" width="36" height="12" fill="#2d2d2d"/>
<path d="M25,430 C50,425 150,418 210,418 C290,425 310,435 320,445 L385,520 V685 L320,697 L110,700 L30,660 L18,620 V450Z" fill="#dfe1e3"/>
<path d="M60,430 L210,418 C290,425 310,435 320,445 L385,520 C340,495 200,485 110,495 L60,490Z" fill="#ebecee"/>
<path d="M110,665 H385 V685 L320,697 H110Z" fill="#c3c6c8"/>
<rect x="32" y="478" width="26" height="145" fill="#78797b"/>
<path d="M30,655 L100,680" stroke="#999" stroke-width="5"/>
<path d="M388,580 L530,572 L540,575 V640 L480,660 L388,665Z" fill="#7e8183"/>
<ellipse cx="560" cy="635" rx="28" ry="35" fill="#fff"/><ellipse cx="535" cy="640" rx="30" ry="30" fill="#6a6d6f"/><rect x="500" y="622" width="30" height="32" fill="#55585a"/>
</g>
<g transform="translate(530,1820) scale(.3444,.3333)">
<rect x="975" y="318" width="495" height="317" rx="8" fill="#3a3a3b"/>
<rect x="990" y="340" width="465" height="270" fill="#000"/>
<rect x="1193" y="635" width="47" height="65" fill="#3d3d3d"/>
<path d="M1150,700 H1265 L1290,722 V733 H1130 V722Z" fill="#444"/>
<g clip-path="url(#scr)">
<use href="#c" x="997" y="370"/><use href="#c" x="1033" y="395"/><use href="#d" x="1082" y="395"/><use href="#c" x="1127" y="385"/><use href="#c" x="1190" y="410"/><use href="#c" x="1248" y="418"/><use href="#d" x="1267" y="385"/><use href="#d" x="1330" y="380"/><use href="#c" x="1372" y="402"/><use href="#d" x="1430" y="408"/><use href="#c" x="1058" y="426"/><use href="#c" x="1127" y="465"/><use href="#d" x="1080" y="457"/><use href="#c" x="1200" y="455"/><use href="#d" x="1283" y="448"/><use href="#c" x="1327" y="432"/><use href="#c" x="1395" y="467"/><use href="#c" x="1440" y="457"/><use href="#d" x="1037" y="488"/><use href="#c" x="1165" y="488"/><use href="#c" x="1122" y="515"/><use href="#c" x="1063" y="514"/><use href="#c" x="1000" y="525"/><use href="#d" x="1227" y="500"/><use href="#c" x="1270" y="495"/><use href="#c" x="1320" y="490"/><use href="#d" x="1048" y="550"/><use href="#d" x="1183" y="530"/><use href="#c" x="1240" y="538"/><use href="#c" x="1303" y="538"/><use href="#c" x="1380" y="528"/><use href="#d" x="1424" y="512"/><use href="#c" x="1107" y="573"/><use href="#d" x="1258" y="572"/><use href="#d" x="1358" y="558"/><use href="#c" x="1410" y="552"/><use href="#c" x="1408" y="585"/><use href="#c" x="1005" y="602"/><use href="#c" x="1065" y="600"/><use href="#c" x="1208" y="604"/><use href="#c" x="1307" y="604"/><use href="#c" x="1425" y="350"/><use href="#c" x="1315" y="350"/><use href="#d" x="1220" y="350"/><use href="#c" x="1160" y="350"/><use href="#d" x="1033" y="350"/><use href="#d" x="1165" y="603"/>
</g>
</g>

<!-- TEXT -->
<text x="1100" y="548" textLength="210">Porcine Skin</text>
<text x="1132" y="593" textLength="147">(<tspan font-style="italic">Ex vivo</tspan>)</text>
<text x="385" y="976" textLength="353" xml:space="preserve">CaHA  Microneedling</text>
<text x="1378" y="976" textLength="240">CaHA Injected</text>
<text x="1764" y="1306" textLength="416">Keratinocyte Cell Culture</text>
<text x="1905" y="1351" textLength="138">(<tspan font-style="italic">In vitro</tspan>)</text>
</svg>
</body></html>
